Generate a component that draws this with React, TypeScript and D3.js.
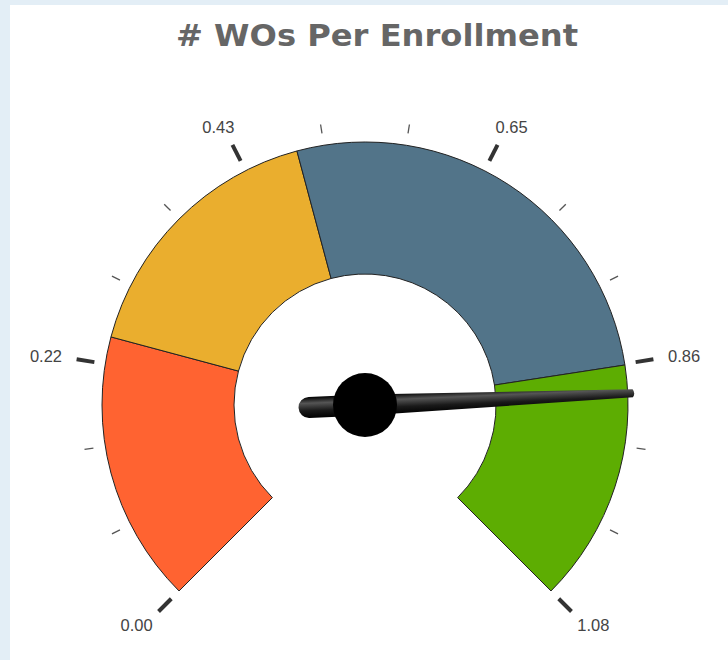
import React from 'react';
import * as d3 from 'd3';

// gauge data
const bandStops = [0, 0.24, 0.48, 0.865, 1.08];
const bandColors = ['#FF6331', '#EAAE2E', '#527489', '#5DAD02'];
const majorTicks = [0, 0.216, 0.432, 0.648, 0.864, 1.08];
const tickLabels = ['0.00', '0.22', '0.43', '0.65', '0.86', '1.08'];
const minorTicks = [0.072, 0.144, 0.288, 0.36, 0.504, 0.576, 0.72, 0.792, 0.936, 1.008];
const needleValue = 0.89;
const title = '# WOs Per Enrollment';

const W = 728;
const H = 660;
const cx = 365;
const cy = 405;
const outerR = 263;
const innerR = 131;

const App = () => {
  // value -> angle in degrees (0 = up, clockwise)
  const angle = d3.scaleLinear().domain([0, 1.08]).range([-135, 135]);
  const rad = (v: number) => (angle(v) * Math.PI) / 180;

  const arc = d3
    .arc<{start: number; end: number}>()
    .innerRadius(innerR)
    .outerRadius(outerR)
    .startAngle(d => rad(d.start))
    .endAngle(d => rad(d.end));

  const bands = bandColors.map((c, i) => ({
    start: bandStops[i],
    end: bandStops[i + 1],
    color: c,
  }));

  const pt = (v: number, r: number) => {
    const a = rad(v);
    return [r * Math.sin(a), -r * Math.cos(a)];
  };

  const needleAngle = angle(needleValue) - 90;

  return (
    <svg
      width={W}
      height={H}
      style={{position: 'absolute', left: 0, top: 0}}
    >
      <defs>
        <linearGradient id="needleGrad" x1="0" y1="0" x2="0" y2="1">
          <stop offset="0" stopColor="#000" />
          <stop offset="0.3" stopColor="#555" />
          <stop offset="0.65" stopColor="#1a1a1a" />
          <stop offset="1" stopColor="#000" />
        </linearGradient>
      </defs>
      <rect x={0} y={0} width={W} height={H} fill="#E3EEF6" />
      <rect x={10} y={5} width={W - 10} height={H - 5} fill="#fff" />

      <text
        x={377}
        y={46}
        textAnchor="middle"
        fontFamily="'DejaVu Sans', sans-serif"
        fontWeight="bold"
        fontSize={31}
        fill="#666"
        textLength={402}
        lengthAdjust="spacingAndGlyphs"
      >
        {title}
      </text>

      <g transform={`translate(${cx},${cy})`}>
        {bands.map((b, i) => (
          <path
            key={i}
            d={arc(b) || ''}
            fill={b.color}
            stroke="#222"
            strokeWidth={1}
          />
        ))}

        {minorTicks.map((v, i) => {
          const [x1, y1] = pt(v, 275);
          const [x2, y2] = pt(v, 284);
          return (
            <line
              key={'m' + i}
              x1={x1}
              y1={y1}
              x2={x2}
              y2={y2}
              stroke="#555"
              strokeWidth={1.3}
            />
          );
        })}

        {majorTicks.map((v, i) => {
          const [x1, y1] = pt(v, 274);
          const [x2, y2] = pt(v, 292);
          const a = rad(v);
          const [px, py] = pt(v, 306);
          // shift label out by half its size
          const lx = px + 17 * Math.sin(a);
          const ly = py - 6 * Math.cos(a);
          return (
            <g key={'M' + i}>
              <line
                x1={x1}
                y1={y1}
                x2={x2}
                y2={y2}
                stroke="#333"
                strokeWidth={4}
              />
              <text
                x={lx}
                y={ly}
                dy="0.35em"
                textAnchor="middle"
                fontFamily="'Liberation Sans', Arial, sans-serif"
                fontSize={16.5}
                fill="#444"
              >
                {tickLabels[i]}
              </text>
            </g>
          );
        })}

        <g transform={`rotate(${needleAngle})`}>
          <path
            d="M 0 -10.5 L 268 -4 Q 271 0 268 4 L 0 10.5 L -56 10.5 A 10.5 10.5 0 0 1 -56 -10.5 Z"
            fill="url(#needleGrad)"
          />
        </g>
        <circle r={32} fill="#000" />
      </g>
    </svg>
  );
};

export default App;
